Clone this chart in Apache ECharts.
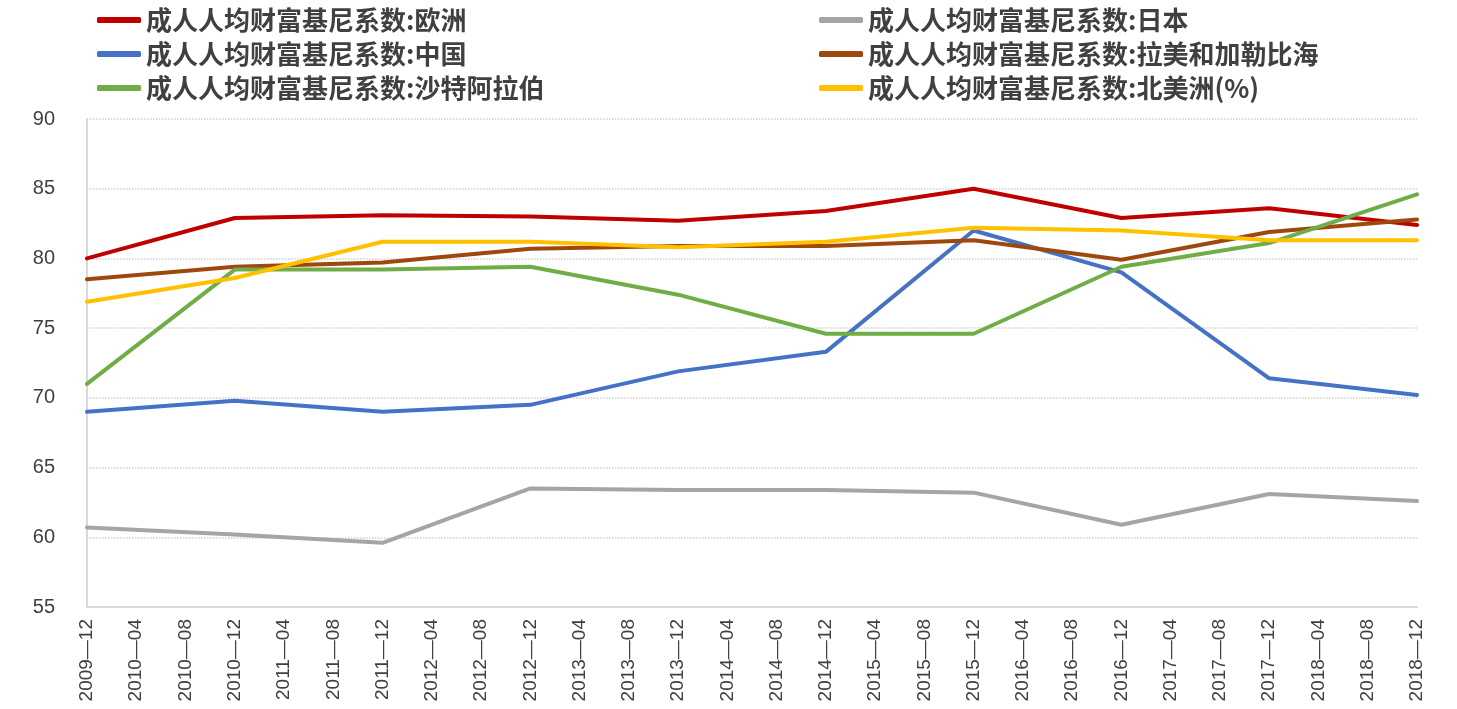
<!DOCTYPE html>
<html>
<head>
<meta charset="utf-8">
<script src="https://cdn.jsdelivr.net/npm/echarts@6/dist/echarts.min.js"></script>
<style>
  html, body { margin: 0; padding: 0; background: #fff; }
  #chart { width: 1457px; height: 709px; }
</style>
</head>
<body>
<div id="chart"></div>
<script>
// 横轴刻度（每4个月一个）
var tickLabels = ['2009-12', '2010-04', '2010-08', '2010-12', '2011-04', '2011-08', '2011-12',
  '2012-04', '2012-08', '2012-12', '2013-04', '2013-08', '2013-12', '2014-04', '2014-08',
  '2014-12', '2015-04', '2015-08', '2015-12', '2016-04', '2016-08', '2016-12', '2017-04',
  '2017-08', '2017-12', '2018-04', '2018-08', '2018-12'];
// 数据点（每年12月）
var years = ['2009-12', '2010-12', '2011-12', '2012-12', '2013-12', '2014-12', '2015-12', '2016-12', '2017-12', '2018-12'];

var europe = [80.0, 82.9, 83.1, 83.0, 82.7, 83.4, 85.0, 82.9, 83.6, 82.4];
var japan = [60.7, 60.2, 59.6, 63.5, 63.4, 63.4, 63.2, 60.9, 63.1, 62.6];
var china = [69.0, 69.8, 69.0, 69.5, 71.9, 73.3, 82.0, 79.0, 71.4, 70.2];
var latam = [78.5, 79.4, 79.7, 80.7, 80.9, 80.9, 81.3, 79.9, 81.9, 82.8];
var saudi = [71.0, 79.2, 79.2, 79.4, 77.4, 74.6, 74.6, 79.4, 81.1, 84.6];
var namerica = [76.9, 78.6, 81.2, 81.2, 80.8, 81.2, 82.2, 82.0, 81.3, 81.3];

var names = ['成人人均财富基尼系数:欧洲', '成人人均财富基尼系数:日本', '成人人均财富基尼系数:中国',
  '成人人均财富基尼系数:拉美和加勒比海', '成人人均财富基尼系数:沙特阿拉伯', '成人人均财富基尼系数:北美洲(%)'];
var colors = ['#C00000', '#A5A5A5', '#4472C4', '#9E480E', '#70AD47', '#FFC000'];
var allData = [europe, japan, china, latam, saudi, namerica];

// 把年度数据放到对应刻度上，其余为空
function toAxis(vals) {
  var out = [];
  for (var i = 0; i < tickLabels.length; i++) out.push(null);
  for (var j = 0; j < years.length; j++) {
    out[tickLabels.indexOf(years[j])] = vals[j];
  }
  return out;
}

var series = [];
for (var k = 0; k < names.length; k++) {
  series.push({
    name: names[k],
    type: 'line',
    data: toAxis(allData[k]),
    connectNulls: true,
    showSymbol: false,
    symbol: 'none',
    lineStyle: { width: 4, color: colors[k], cap: 'round', join: 'round' },
    itemStyle: { color: colors[k] }
  });
}

var legendText = {
  color: '#404040',
  fontSize: 26,
  fontWeight: 'bold',
  fontFamily: 'Noto Sans CJK SC'
};

var myChart = echarts.init(document.getElementById('chart'));
var option = {
  animation: false,
  color: colors,
  legend: [
    {
      data: [names[0], names[2], names[4]],
      orient: 'vertical',
      left: 92,
      top: 2,
      itemWidth: 44,
      itemHeight: 6,
      itemGap: 8,
      icon: 'roundRect',
      textStyle: legendText
    },
    {
      data: [names[1], names[3], names[5]],
      orient: 'vertical',
      left: 814,
      top: 2,
      itemWidth: 44,
      itemHeight: 6,
      itemGap: 8,
      icon: 'roundRect',
      textStyle: legendText
    }
  ],
  grid: {
    left: 87,
    right: 40,
    top: 119,
    bottom: 102,
    containLabel: false
  },
  xAxis: {
    type: 'category',
    data: tickLabels,
    boundaryGap: false,
    axisLine: { lineStyle: { color: '#d9d9d9', width: 2 } },
    axisTick: { show: false },
    axisLabel: {
      interval: 0,
      rotate: 90,
      margin: 12,
      color: '#404040',
      fontSize: 19,
      fontFamily: 'Liberation Sans',
      formatter: function (v) { return v.replace('-', '—'); }
    },
    splitLine: { show: false }
  },
  yAxis: {
    type: 'value',
    min: 55,
    max: 90,
    interval: 5,
    axisLine: { show: true, lineStyle: { color: '#d9d9d9', width: 2 } },
    axisTick: { show: false },
    axisLabel: {
      margin: 32,
      color: '#404040',
      fontSize: 20,
      fontFamily: 'Liberation Sans'
    },
    splitLine: { lineStyle: { color: '#d0d0d0', type: 'dotted', width: 1.5 } }
  },
  series: series
};
myChart.setOption(option);
</script>
</body>
</html>
